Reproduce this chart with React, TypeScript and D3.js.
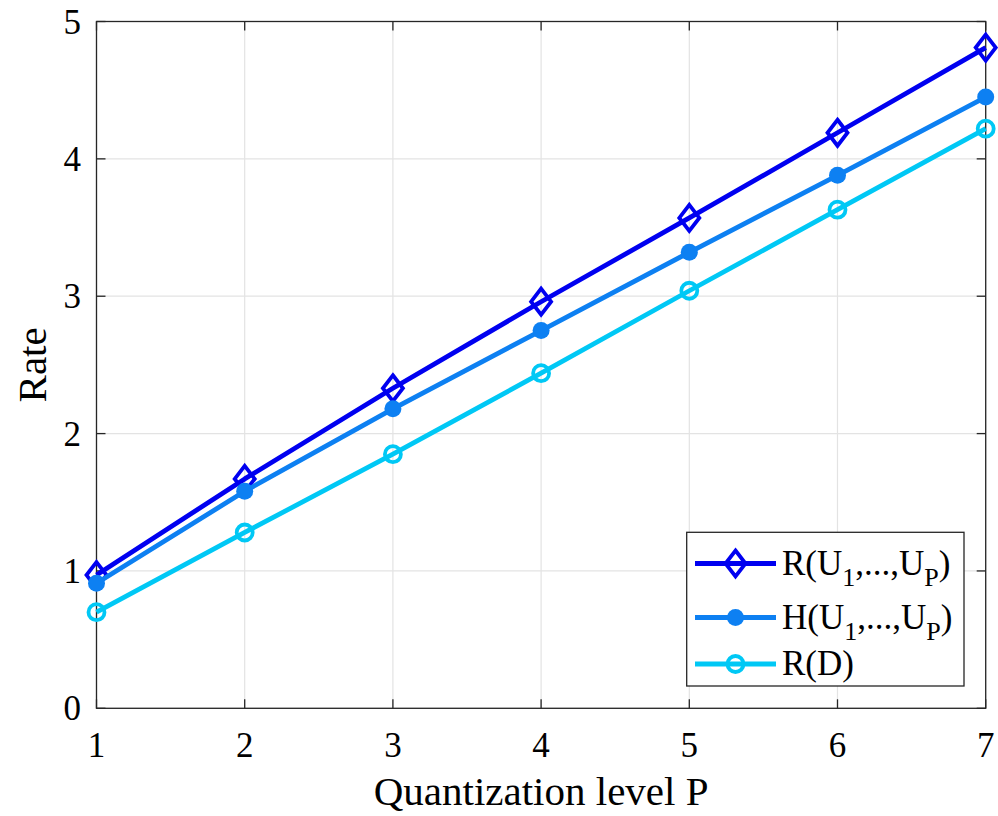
import React from "react";
import * as d3 from "d3";

// quantization levels and rates
const levels = [1, 2, 3, 4, 5, 6, 7];
const rateRU = [0.97, 1.67, 2.33, 2.96, 3.57, 4.19, 4.81];
const rateHU = [0.91, 1.58, 2.18, 2.75, 3.32, 3.88, 4.45];
const rateRD = [0.70, 1.28, 1.85, 2.44, 3.04, 3.63, 4.22];
const xTicks = [1, 2, 3, 4, 5, 6, 7];
const yTicks = [0, 1, 2, 3, 4, 5];

const W = 998;
const H = 816;
const left = 96.5, right = 985.7, top = 21.5, bottom = 708.3;
const FONT = "'Liberation Serif', 'Times New Roman', serif";
const AXIS = "#262626";
const GRID = "#e3e3e3";

const series = [
  { key: "ru", name: "R", values: rateRU, color: "#0000f0", marker: "diamond" },
  { key: "hu", name: "H", values: rateHU, color: "#0d80f2", marker: "dot" },
  { key: "rd", name: "R(D)", values: rateRD, color: "#00c8f5", marker: "circle" },
];

function Marker({ type, x, y, color }: { type: string; x: number; y: number; color: string }) {
  if (type === "diamond") {
    const hw = 10, hh = 13;
    return (
      <path
        d={`M${x},${y - hh}L${x + hw},${y}L${x},${y + hh}L${x - hw},${y}Z`}
        fill="none"
        stroke={color}
        strokeWidth={3.8}
        strokeLinejoin="miter"
      />
    );
  }
  if (type === "dot") {
    return <circle cx={x} cy={y} r={8.5} fill={color} />;
  }
  return <circle cx={x} cy={y} r={8} fill="none" stroke={color} strokeWidth={3.8} />;
}

function LegendLabel({ s, x, y }: { s: typeof series[number]; x: number; y: number }) {
  if (s.key === "rd") {
    return (
      <text x={x} y={y} fontFamily={FONT} fontSize={35} fill="#000">
        R(D)
      </text>
    );
  }
  return (
    <text x={x} y={y} fontFamily={FONT} fontSize={35} fill="#000">
      {s.name}(U
      <tspan fontSize={26} dy={11}>1</tspan>
      <tspan dy={-11}>,...,U</tspan>
      <tspan fontSize={26} dy={11}>P</tspan>
      <tspan dy={-11}>)</tspan>
    </text>
  );
}

export default function App() {
  const x = d3.scaleLinear().domain([1, 7]).range([left, right]);
  const y = d3.scaleLinear().domain([0, 5]).range([bottom, top]);
  const line = d3
    .line<number>()
    .x((_, i) => x(levels[i]))
    .y((d) => y(d));

  const tick = 9;
  const legX = 686.7, legY = 532.3, legW = 277.3, legH = 153.7;
  const rowY = [563.5, 617.5, 664];

  return (
    <svg
      width={W}
      height={H}
      style={{ position: "absolute", left: 0, top: 0, background: "#fff" }}
    >
      <rect width={W} height={H} fill="#fff" />
      {/* grid */}
      {xTicks.map((t) => (
        <line key={"gx" + t} x1={x(t)} x2={x(t)} y1={top} y2={bottom} stroke={GRID} strokeWidth={1.2} />
      ))}
      {yTicks.map((t) => (
        <line key={"gy" + t} x1={left} x2={right} y1={y(t)} y2={y(t)} stroke={GRID} strokeWidth={1.2} />
      ))}

      {/* box and ticks */}
      <rect x={left} y={top} width={right - left} height={bottom - top} fill="none" stroke={AXIS} strokeWidth={1.3} />
      {xTicks.map((t) => (
        <g key={"tx" + t} stroke={AXIS} strokeWidth={1.3}>
          <line x1={x(t)} x2={x(t)} y1={bottom} y2={bottom - tick} />
          <line x1={x(t)} x2={x(t)} y1={top} y2={top + tick} />
        </g>
      ))}
      {yTicks.map((t) => (
        <g key={"ty" + t} stroke={AXIS} strokeWidth={1.3}>
          <line x1={left} x2={left + tick} y1={y(t)} y2={y(t)} />
          <line x1={right} x2={right - tick} y1={y(t)} y2={y(t)} />
        </g>
      ))}

      {/* tick labels */}
      {xTicks.map((t) => (
        <text key={"lx" + t} x={x(t)} y={757} textAnchor="middle" fontFamily={FONT} fontSize={35} fill="#000">
          {t}
        </text>
      ))}
      {yTicks.map((t) => (
        <text key={"ly" + t} x={81} y={y(t) + 12} textAnchor="end" fontFamily={FONT} fontSize={35} fill="#000">
          {t}
        </text>
      ))}

      {/* axis titles */}
      <text x={(left + right) / 2} y={805} textAnchor="middle" fontFamily={FONT} fontSize={41} fill="#000">
        Quantization level P
      </text>
      <text
        transform={`translate(46,${(top + bottom) / 2}) rotate(-90)`}
        textAnchor="middle"
        fontFamily={FONT}
        fontSize={41}
        fill="#000"
      >
        Rate
      </text>

      {/* series */}
      {series.map((s) => (
        <g key={s.key}>
          <path d={line(s.values) || ""} fill="none" stroke={s.color} strokeWidth={4.8} strokeLinejoin="round" />
          {s.values.map((v, i) => (
            <Marker key={i} type={s.marker} x={x(levels[i])} y={y(v)} color={s.color} />
          ))}
        </g>
      ))}

      {/* legend */}
      <rect x={legX} y={legY} width={legW} height={legH} fill="#fff" stroke={AXIS} strokeWidth={1.3} />
      {series.map((s, i) => (
        <g key={"leg" + s.key}>
          <line x1={695} x2={776} y1={rowY[i]} y2={rowY[i]} stroke={s.color} strokeWidth={4.8} />
          <Marker type={s.marker} x={735.5} y={rowY[i]} color={s.color} />
          <LegendLabel s={s} x={782} y={rowY[i] + 11} />
        </g>
      ))}
    </svg>
  );
}
